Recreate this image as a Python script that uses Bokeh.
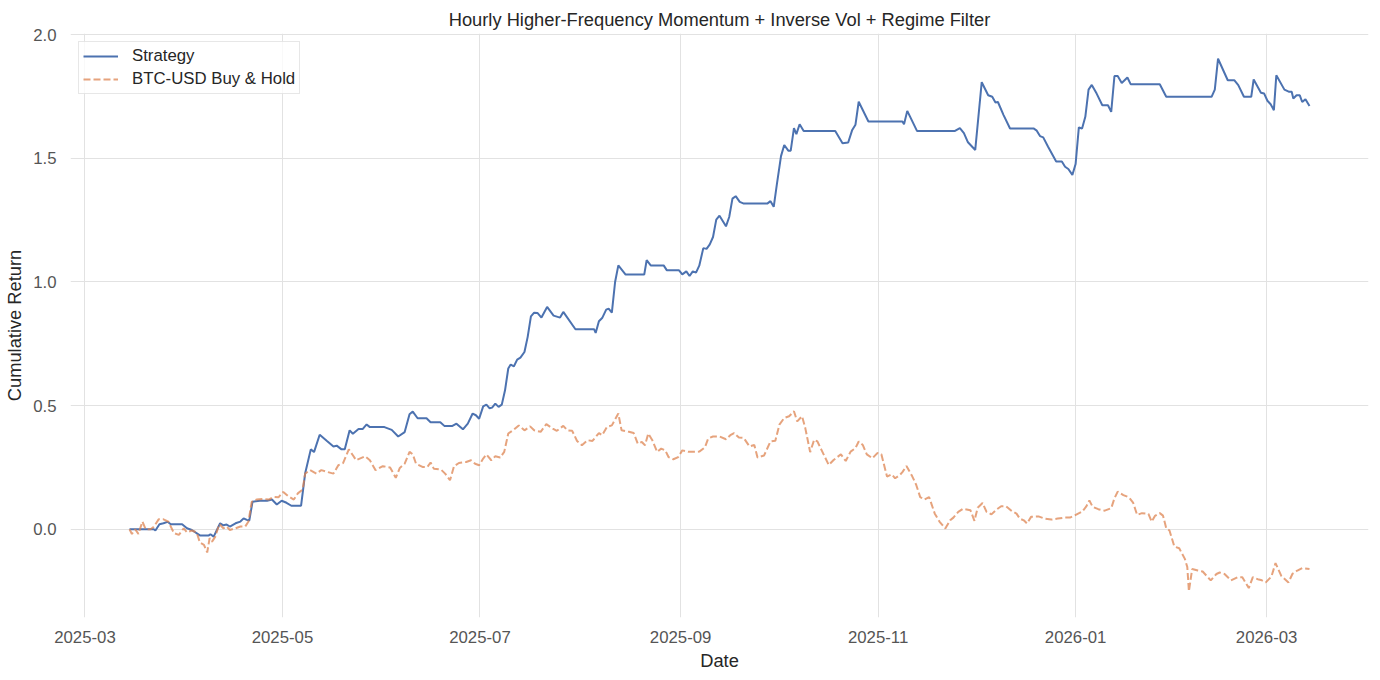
import pandas as pd
from bokeh.plotting import figure
from bokeh.models import Range1d, FixedTicker, DatetimeTickFormatter, PrintfTickFormatter
from bokeh.embed import file_html
from bokeh.resources import INLINE

# values
strat_dates = [
    "2025-03-14 18:00", "2025-03-22 06:00", "2025-03-22 18:00", "2025-03-24 00:00", "2025-03-25 06:00",
    "2025-03-26 12:00", "2025-03-27 12:00", "2025-03-31 00:00", "2025-04-01 12:00", "2025-04-03 00:00",
    "2025-04-05 12:00", "2025-04-08 06:00", "2025-04-08 18:00", "2025-04-09 18:00", "2025-04-11 18:00",
    "2025-04-12 18:00", "2025-04-13 18:00", "2025-04-14 18:00", "2025-04-16 12:00", "2025-04-18 00:00",
    "2025-04-19 00:00", "2025-04-20 00:00", "2025-04-20 18:00", "2025-04-21 18:00", "2025-04-24 00:00",
    "2025-04-26 06:00", "2025-04-27 18:00", "2025-04-29 06:00", "2025-04-30 18:00", "2025-05-02 06:00",
    "2025-05-03 18:00", "2025-05-06 18:00", "2025-05-08 00:00", "2025-05-09 18:00", "2025-05-10 18:00",
    "2025-05-12 12:00", "2025-05-14 18:00", "2025-05-16 18:00", "2025-05-17 18:00", "2025-05-19 06:00",
    "2025-05-20 06:00", "2025-05-21 18:00", "2025-05-22 18:00", "2025-05-24 12:00", "2025-05-25 18:00",
    "2025-05-27 00:00", "2025-05-28 00:00", "2025-06-01 12:00", "2025-06-03 18:00", "2025-06-05 18:00",
    "2025-06-07 18:00", "2025-06-09 06:00", "2025-06-10 06:00", "2025-06-11 18:00", "2025-06-14 12:00",
    "2025-06-15 18:00", "2025-06-18 18:00", "2025-06-20 00:00", "2025-06-22 12:00", "2025-06-23 18:00",
    "2025-06-25 18:00", "2025-06-27 06:00", "2025-06-28 18:00", "2025-06-29 18:00", "2025-06-30 18:00",
    "2025-07-02 00:00", "2025-07-03 00:00", "2025-07-04 00:00", "2025-07-04 18:00", "2025-07-05 18:00",
    "2025-07-06 18:00", "2025-07-07 18:00", "2025-07-08 18:00", "2025-07-09 18:00", "2025-07-10 12:00",
    "2025-07-11 12:00", "2025-07-12 12:00", "2025-07-13 12:00", "2025-07-14 18:00", "2025-07-15 18:00",
    "2025-07-16 18:00", "2025-07-17 18:00", "2025-07-18 18:00", "2025-07-20 00:00", "2025-07-21 18:00",
    "2025-07-23 18:00", "2025-07-25 18:00", "2025-07-26 18:00", "2025-07-30 12:00", "2025-08-05 06:00",
    "2025-08-05 18:00", "2025-08-06 18:00", "2025-08-07 18:00", "2025-08-09 00:00", "2025-08-09 18:00",
    "2025-08-10 18:00", "2025-08-11 18:00", "2025-08-12 18:00", "2025-08-15 00:00", "2025-08-20 18:00",
    "2025-08-21 12:00", "2025-08-22 18:00", "2025-08-26 18:00", "2025-08-27 18:00", "2025-08-31 12:00",
    "2025-09-01 12:00", "2025-09-02 18:00", "2025-09-03 18:00", "2025-09-04 18:00", "2025-09-05 18:00",
    "2025-09-06 18:00", "2025-09-08 00:00", "2025-09-09 00:00", "2025-09-10 00:00", "2025-09-11 00:00",
    "2025-09-12 00:00", "2025-09-13 00:00", "2025-09-15 00:00", "2025-09-16 00:00", "2025-09-17 00:00",
    "2025-09-18 00:00", "2025-09-19 06:00", "2025-09-20 12:00", "2025-09-27 18:00", "2025-09-28 18:00",
    "2025-09-29 18:00", "2025-09-30 18:00", "2025-10-02 00:00", "2025-10-03 00:00", "2025-10-04 06:00",
    "2025-10-05 00:00", "2025-10-06 00:00", "2025-10-06 18:00", "2025-10-07 18:00", "2025-10-09 00:00",
    "2025-10-18 18:00", "2025-10-21 00:00", "2025-10-22 18:00", "2025-10-24 00:00", "2025-10-25 00:00",
    "2025-10-26 00:00", "2025-10-29 00:00", "2025-11-08 12:00", "2025-11-09 00:00", "2025-11-10 00:00",
    "2025-11-13 00:00", "2025-11-24 18:00", "2025-11-26 06:00", "2025-11-27 12:00", "2025-11-28 18:00",
    "2025-12-01 00:00", "2025-12-03 00:00", "2025-12-05 00:00", "2025-12-06 06:00", "2025-12-07 06:00",
    "2025-12-08 00:00", "2025-12-09 18:00", "2025-12-11 18:00", "2025-12-19 00:00", "2025-12-20 00:00",
    "2025-12-21 00:00", "2025-12-22 00:00", "2025-12-23 12:00", "2025-12-26 00:00", "2025-12-27 18:00",
    "2025-12-28 18:00", "2025-12-29 18:00", "2025-12-31 00:00", "2026-01-01 00:00", "2026-01-02 00:00",
    "2026-01-03 00:00", "2026-01-04 00:00", "2026-01-05 00:00", "2026-01-06 00:00", "2026-01-07 12:00",
    "2026-01-09 06:00", "2026-01-11 00:00", "2026-01-12 00:00", "2026-01-13 00:00", "2026-01-14 00:00",
    "2026-01-15 06:00", "2026-01-17 00:00", "2026-01-18 00:00", "2026-01-27 00:00", "2026-01-29 00:00",
    "2026-02-12 00:00", "2026-02-13 00:00", "2026-02-14 00:00", "2026-02-17 00:00", "2026-02-19 00:00",
    "2026-02-20 06:00", "2026-02-22 00:00", "2026-02-24 06:00", "2026-02-25 00:00", "2026-02-27 06:00",
    "2026-02-28 06:00", "2026-03-01 06:00", "2026-03-02 06:00", "2026-03-03 06:00", "2026-03-04 00:00",
    "2026-03-06 12:00", "2026-03-08 00:00", "2026-03-08 18:00", "2026-03-09 06:00", "2026-03-10 06:00",
    "2026-03-11 06:00", "2026-03-12 00:00", "2026-03-13 00:00", "2026-03-14 06:00",
]
strat_values = [
    0.0, 0.0, -0.005, 0.02, 0.024,
    0.03, 0.02, 0.02, 0.004, -0.003,
    -0.025, -0.025, -0.02, -0.03, 0.024,
    0.016, 0.019, 0.011, 0.024, 0.031,
    0.044, 0.038, 0.035, 0.111, 0.115,
    0.115, 0.12, 0.10, 0.115, 0.107,
    0.095, 0.095, 0.225, 0.323, 0.312,
    0.382, 0.357, 0.335, 0.338, 0.323,
    0.323, 0.40, 0.386, 0.405, 0.405,
    0.424, 0.413, 0.413, 0.402, 0.375,
    0.393, 0.465, 0.476, 0.449, 0.449,
    0.433, 0.433, 0.418, 0.418, 0.427,
    0.404, 0.427, 0.468, 0.461, 0.447,
    0.497, 0.504, 0.489, 0.492, 0.508,
    0.495, 0.504, 0.562, 0.65, 0.666,
    0.659, 0.686, 0.694, 0.717, 0.778,
    0.861, 0.876, 0.875, 0.856, 0.899,
    0.864, 0.856, 0.879, 0.809, 0.809,
    0.794, 0.841, 0.854, 0.888, 0.892,
    0.876, 1.0, 1.067, 1.03, 1.03,
    1.088, 1.067, 1.067, 1.047, 1.047,
    1.031, 1.043, 1.024, 1.043, 1.038,
    1.066, 1.137, 1.134, 1.152, 1.182,
    1.252, 1.268, 1.225, 1.263, 1.337,
    1.347, 1.324, 1.317, 1.317, 1.327,
    1.304, 1.398, 1.509, 1.554, 1.531,
    1.531, 1.622, 1.598, 1.638, 1.611,
    1.611, 1.561, 1.564, 1.615, 1.636,
    1.729, 1.649, 1.649, 1.638, 1.692,
    1.611, 1.611, 1.622, 1.602, 1.565,
    1.534, 1.808, 1.755, 1.749, 1.726,
    1.728, 1.675, 1.621, 1.621, 1.612,
    1.59, 1.585, 1.547, 1.487, 1.487,
    1.466, 1.457, 1.433, 1.477, 1.625,
    1.621, 1.668, 1.778, 1.797, 1.762,
    1.715, 1.715, 1.688, 1.833, 1.833,
    1.805, 1.827, 1.80, 1.80, 1.749,
    1.749, 1.778, 1.903, 1.816, 1.816,
    1.796, 1.749, 1.749, 1.819, 1.765,
    1.762, 1.733, 1.719, 1.695, 1.836,
    1.778, 1.769, 1.769, 1.742, 1.755,
    1.755, 1.728, 1.739, 1.712,
]

bh_dates = [
    "2025-03-14 18:00", "2025-03-15 12:00", "2025-03-16 12:00", "2025-03-17 12:00", "2025-03-18 18:00",
    "2025-03-19 18:00", "2025-03-21 06:00", "2025-03-22 06:00", "2025-03-23 18:00", "2025-03-25 06:00",
    "2025-03-26 18:00", "2025-03-28 12:00", "2025-03-30 00:00", "2025-03-31 12:00", "2025-04-01 12:00",
    "2025-04-03 00:00", "2025-04-04 12:00", "2025-04-05 12:00", "2025-04-06 18:00", "2025-04-07 18:00",
    "2025-04-08 12:00", "2025-04-09 06:00", "2025-04-10 06:00", "2025-04-11 12:00", "2025-04-12 18:00",
    "2025-04-13 18:00", "2025-04-14 18:00", "2025-04-16 12:00", "2025-04-18 00:00", "2025-04-19 12:00",
    "2025-04-20 12:00", "2025-04-21 12:00", "2025-04-23 00:00", "2025-04-25 00:00", "2025-04-26 18:00",
    "2025-04-28 06:00", "2025-04-29 18:00", "2025-05-01 06:00", "2025-05-02 18:00", "2025-05-04 12:00",
    "2025-05-05 18:00", "2025-05-07 06:00", "2025-05-08 00:00", "2025-05-09 12:00", "2025-05-11 12:00",
    "2025-05-13 00:00", "2025-05-14 18:00", "2025-05-16 18:00", "2025-05-18 06:00", "2025-05-19 18:00",
    "2025-05-21 12:00", "2025-05-22 18:00", "2025-05-23 18:00", "2025-05-26 12:00", "2025-05-28 00:00",
    "2025-05-29 18:00", "2025-06-01 00:00", "2025-06-03 06:00", "2025-06-05 00:00", "2025-06-06 06:00",
    "2025-06-07 18:00", "2025-06-09 06:00", "2025-06-10 06:00", "2025-06-11 06:00", "2025-06-13 06:00",
    "2025-06-14 18:00", "2025-06-15 18:00", "2025-06-16 18:00", "2025-06-19 00:00", "2025-06-20 06:00",
    "2025-06-21 18:00", "2025-06-23 00:00", "2025-06-24 12:00", "2025-06-26 18:00", "2025-06-28 06:00",
    "2025-06-29 12:00", "2025-06-30 18:00", "2025-07-02 00:00", "2025-07-03 00:00", "2025-07-04 12:00",
    "2025-07-05 18:00", "2025-07-07 06:00", "2025-07-08 12:00", "2025-07-09 18:00", "2025-07-11 12:00",
    "2025-07-13 00:00", "2025-07-14 18:00", "2025-07-16 12:00", "2025-07-17 18:00", "2025-07-19 18:00",
    "2025-07-21 12:00", "2025-07-23 12:00", "2025-07-24 18:00", "2025-07-26 18:00", "2025-07-28 00:00",
    "2025-07-29 12:00", "2025-07-31 00:00", "2025-08-01 12:00", "2025-08-03 06:00", "2025-08-04 18:00",
    "2025-08-06 18:00", "2025-08-07 18:00", "2025-08-09 06:00", "2025-08-10 18:00", "2025-08-12 18:00",
    "2025-08-13 18:00", "2025-08-16 00:00", "2025-08-17 12:00", "2025-08-18 18:00", "2025-08-20 00:00",
    "2025-08-21 00:00", "2025-08-22 00:00", "2025-08-23 06:00", "2025-08-24 18:00", "2025-08-26 00:00",
    "2025-08-27 06:00", "2025-08-28 06:00", "2025-08-29 18:00", "2025-08-31 06:00", "2025-09-01 12:00",
    "2025-09-03 12:00", "2025-09-05 12:00", "2025-09-06 18:00", "2025-09-08 12:00", "2025-09-09 12:00",
    "2025-09-11 00:00", "2025-09-13 00:00", "2025-09-15 00:00", "2025-09-16 12:00", "2025-09-17 12:00",
    "2025-09-19 00:00", "2025-09-20 12:00", "2025-09-22 06:00", "2025-09-23 18:00", "2025-09-24 18:00",
    "2025-09-26 18:00", "2025-09-28 18:00", "2025-09-30 06:00", "2025-10-01 12:00", "2025-10-03 00:00",
    "2025-10-04 12:00", "2025-10-06 00:00", "2025-10-07 00:00", "2025-10-08 12:00", "2025-10-09 12:00",
    "2025-10-11 00:00", "2025-10-12 06:00", "2025-10-13 06:00", "2025-10-14 18:00", "2025-10-16 18:00",
    "2025-10-18 06:00", "2025-10-20 12:00", "2025-10-22 00:00", "2025-10-23 12:00", "2025-10-25 00:00",
    "2025-10-26 00:00", "2025-10-27 06:00", "2025-10-28 12:00", "2025-10-30 06:00", "2025-10-31 18:00",
    "2025-11-02 00:00", "2025-11-03 18:00", "2025-11-05 06:00", "2025-11-06 06:00", "2025-11-07 18:00",
    "2025-11-08 12:00", "2025-11-09 18:00", "2025-11-11 12:00", "2025-11-12 18:00", "2025-11-14 00:00",
    "2025-11-15 06:00", "2025-11-16 18:00", "2025-11-18 12:00", "2025-11-20 00:00", "2025-11-21 18:00",
    "2025-11-23 06:00", "2025-11-24 06:00", "2025-11-25 18:00", "2025-11-27 06:00", "2025-11-29 12:00",
    "2025-11-30 18:00", "2025-12-01 18:00", "2025-12-03 06:00", "2025-12-04 12:00", "2025-12-06 00:00",
    "2025-12-07 12:00", "2025-12-09 00:00", "2025-12-10 12:00", "2025-12-12 06:00", "2025-12-13 18:00",
    "2025-12-14 18:00", "2025-12-16 00:00", "2025-12-17 00:00", "2025-12-18 06:00", "2025-12-20 12:00",
    "2025-12-22 12:00", "2025-12-24 12:00", "2025-12-26 12:00", "2025-12-28 12:00", "2025-12-30 06:00",
    "2025-12-31 18:00", "2026-01-03 00:00", "2026-01-04 06:00", "2026-01-05 06:00", "2026-01-06 06:00",
    "2026-01-08 00:00", "2026-01-10 00:00", "2026-01-12 00:00", "2026-01-13 00:00", "2026-01-14 00:00",
    "2026-01-15 18:00", "2026-01-17 12:00", "2026-01-18 18:00", "2026-01-20 00:00", "2026-01-21 12:00",
    "2026-01-23 12:00", "2026-01-24 12:00", "2026-01-25 12:00", "2026-01-27 00:00", "2026-01-28 00:00",
    "2026-01-29 00:00", "2026-01-30 00:00", "2026-01-31 12:00", "2026-02-02 00:00", "2026-02-03 18:00",
    "2026-02-04 12:00", "2026-02-05 00:00", "2026-02-06 00:00", "2026-02-07 18:00", "2026-02-09 06:00",
    "2026-02-11 18:00", "2026-02-13 12:00", "2026-02-14 12:00", "2026-02-16 00:00", "2026-02-18 00:00",
    "2026-02-20 00:00", "2026-02-21 12:00", "2026-02-23 12:00", "2026-02-24 18:00", "2026-02-26 06:00",
    "2026-02-27 06:00", "2026-02-28 18:00", "2026-03-02 12:00", "2026-03-03 18:00", "2026-03-05 12:00",
    "2026-03-07 18:00", "2026-03-09 00:00", "2026-03-10 12:00", "2026-03-12 00:00", "2026-03-14 06:00",
]
bh_values = [
    0.0, -0.019, 0.0, -0.019, 0.031,
    0.0, 0.0, 0.01, 0.04, 0.04,
    0.031, -0.016, -0.023, 0.004, -0.013,
    -0.005, -0.013, -0.054, -0.063, -0.094,
    -0.036, -0.05, -0.03, 0.021, 0.004,
    0.011, -0.003, 0.004, 0.011, 0.011,
    0.031, 0.111, 0.12, 0.123, 0.12,
    0.131, 0.129, 0.151, 0.134, 0.12,
    0.145, 0.161, 0.225, 0.239, 0.225,
    0.239, 0.232, 0.225, 0.259, 0.268,
    0.323, 0.299, 0.279, 0.295, 0.279,
    0.239, 0.255, 0.25, 0.208, 0.248,
    0.265, 0.313, 0.303, 0.265, 0.252,
    0.252, 0.27, 0.245, 0.241, 0.225,
    0.198, 0.255, 0.268, 0.272, 0.279,
    0.265, 0.259, 0.286, 0.302, 0.279,
    0.295, 0.29, 0.313, 0.387, 0.403,
    0.42, 0.40, 0.416, 0.40, 0.394,
    0.425, 0.407, 0.398, 0.418, 0.40,
    0.398, 0.357, 0.34, 0.36, 0.357,
    0.389, 0.38, 0.414, 0.42, 0.468,
    0.40, 0.394, 0.389, 0.346, 0.353,
    0.34, 0.387, 0.36, 0.313, 0.326,
    0.319, 0.292, 0.283, 0.292, 0.319,
    0.313, 0.313, 0.314, 0.331, 0.367,
    0.375, 0.375, 0.364, 0.382, 0.389,
    0.371, 0.369, 0.335, 0.341, 0.29,
    0.298, 0.355, 0.358, 0.423, 0.45,
    0.457, 0.477, 0.436, 0.457, 0.409,
    0.312, 0.362, 0.355, 0.314, 0.26,
    0.28, 0.303, 0.276, 0.314, 0.328,
    0.355, 0.341, 0.303, 0.287, 0.308,
    0.303, 0.213, 0.222, 0.206, 0.22,
    0.231, 0.256, 0.215, 0.18, 0.13,
    0.12, 0.13, 0.063, 0.03, 0.003,
    0.036, 0.047, 0.07, 0.083, 0.077,
    0.034, 0.087, 0.106, 0.07, 0.06,
    0.079, 0.093, 0.093, 0.074, 0.063,
    0.043, 0.036, 0.023, 0.05, 0.052,
    0.043, 0.039, 0.043, 0.047, 0.047,
    0.056, 0.071, 0.091, 0.116, 0.091,
    0.081, 0.075, 0.085, 0.125, 0.152,
    0.138, 0.129, 0.108, 0.058, 0.065,
    0.062, 0.031, 0.054, 0.065, 0.055,
    0.004, -0.005, -0.07, -0.077, -0.12,
    -0.153, -0.251, -0.161, -0.167, -0.171,
    -0.207, -0.181, -0.175, -0.181, -0.207,
    -0.194, -0.194, -0.238, -0.194, -0.202,
    -0.205, -0.215, -0.191, -0.137, -0.188,
    -0.215, -0.18, -0.167, -0.157, -0.161,
]

tick_months = ["2025-03-01", "2025-05-01", "2025-07-01", "2025-09-01",
               "2025-11-01", "2026-01-01", "2026-03-01"]
y_ticks = [0.0, 0.5, 1.0, 1.5, 2.0]

FONT = "Liberation Sans"

sx = pd.to_datetime(strat_dates)
bx = pd.to_datetime(bh_dates)
lo = min(sx.min(), bx.min())
hi = max(sx.max(), bx.max())
pad = (hi - lo) * 0.05


def to_ms(ts):
    return (ts - pd.Timestamp("1970-01-01")) / pd.Timedelta(milliseconds=1)


p = figure(frame_width=1298, frame_height=584, x_axis_type="datetime",
           x_range=Range1d(to_ms(lo - pad), to_ms(hi + pad)),
           y_range=Range1d(-0.357, 2.005),
           title="Hourly Higher-Frequency Momentum + Inverse Vol + Regime Filter",
           output_backend="svg", toolbar_location=None,
           min_border_left=70, min_border_right=3, min_border_top=33, min_border_bottom=50)

p.line(sx, strat_values, line_color="#4c72b0", line_width=2, legend_label="Strategy")
p.line(bx, bh_values, line_color="#dd8452", line_alpha=0.75, line_width=2,
       line_dash="7 3", legend_label="BTC-USD Buy & Hold")

# title
p.title.align = "center"
p.title.text_font = FONT
p.title.text_font_size = "18.3px"
p.title.text_font_style = "normal"
p.title.text_color = "#262626"
p.title.standoff = 7

# axes
p.xaxis.ticker = FixedTicker(ticks=[to_ms(t) for t in pd.to_datetime(tick_months)])
fmt = "%Y-%m"
p.xaxis.formatter = DatetimeTickFormatter(years=fmt, months=fmt, days=fmt, hours=fmt,
                                          hourmin=fmt, minutes=fmt, minsec=fmt,
                                          seconds=fmt, milliseconds=fmt, microseconds=fmt)
p.yaxis.ticker = FixedTicker(ticks=y_ticks)
p.yaxis.formatter = PrintfTickFormatter(format="%.1f")
p.xaxis.axis_label = "Date"
p.yaxis.axis_label = "Cumulative Return"
for ax in (p.xaxis, p.yaxis):
    ax.axis_line_color = None
    ax.major_tick_line_color = None
    ax.minor_tick_line_color = None
    ax.major_tick_out = 0
    ax.major_tick_in = 0
    ax.major_label_text_font = FONT
    ax.major_label_text_font_size = "16.8px"
    ax.major_label_text_color = "#555555"
    ax.axis_label_text_font = FONT
    ax.axis_label_text_font_size = "18.3px"
    ax.axis_label_text_font_style = "normal"
    ax.axis_label_text_color = "#262626"
p.xaxis.major_label_standoff = 13
p.xaxis.axis_label_standoff = 4
p.yaxis.major_label_standoff = 14
p.yaxis.axis_label_standoff = 5

p.xgrid.grid_line_color = "#e2e2e2"
p.ygrid.grid_line_color = "#e2e2e2"
p.outline_line_color = None
p.background_fill_color = "white"
p.border_fill_color = "white"

# legend
lg = p.legend[0]
lg.location = "top_left"
lg.margin = 8
lg.padding = 4
lg.spacing = 3
lg.glyph_width = 35
lg.glyph_height = 20
lg.label_height = 20
lg.label_standoff = 14
lg.label_text_font = FONT
lg.label_text_font_size = "16.8px"
lg.label_text_color = "#262626"
lg.border_line_color = "#d0d0d0"
lg.background_fill_alpha = 0.8

open("out.html", "w").write(file_html(p, INLINE))
